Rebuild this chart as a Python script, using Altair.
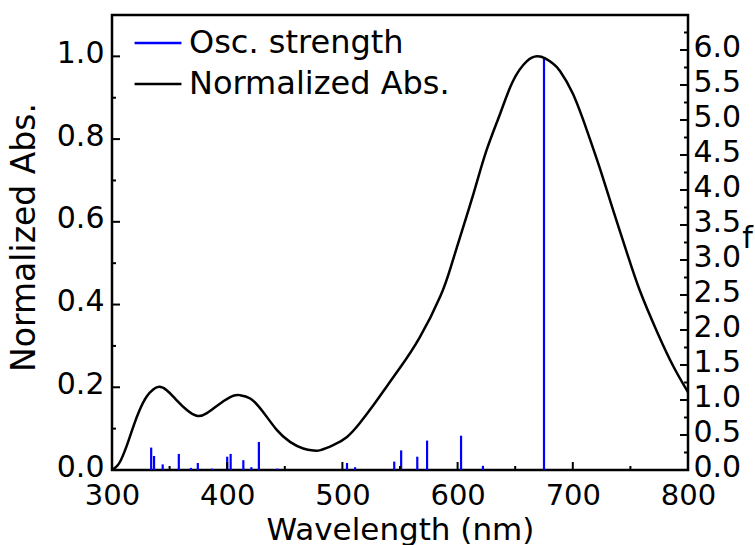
import altair as alt
import pandas as pd

# ---- data ----
wavelength = [300, 303, 307, 313, 318.5, 324, 330, 336, 341, 347.5, 356, 365, 373.5, 382,
              394, 405, 411, 420, 431, 443, 454.5, 466, 475, 481, 492, 504, 515, 527,
              538.5, 550, 567, 585, 594, 602, 614, 625, 637, 648, 660, 669, 676, 683, 689,
              700, 712, 724, 735, 747, 758, 773, 787, 800]
norm_abs = [0.0, 0.006, 0.02, 0.06, 0.105, 0.145, 0.177, 0.195, 0.201, 0.193, 0.169, 0.145,
            0.131, 0.137, 0.161, 0.179, 0.181, 0.173, 0.141, 0.097, 0.068, 0.052, 0.047,
            0.048, 0.06, 0.08, 0.113, 0.157, 0.202, 0.247, 0.32, 0.42, 0.49, 0.562, 0.67,
            0.772, 0.862, 0.94, 0.988, 1.0, 0.995, 0.982, 0.964, 0.91, 0.823, 0.725, 0.628,
            0.525, 0.435, 0.335, 0.252, 0.188]

stick_wl = [334, 336.5, 344, 358, 368.5, 374.5, 387, 400, 403, 414, 421, 427.5, 443.5,
            504, 511, 545, 551, 565, 573.5, 603, 622, 675]
stick_f = [0.32, 0.20, 0.08, 0.23, 0.03, 0.10, 0.02, 0.19, 0.23, 0.14, 0.04, 0.40, 0.02,
           0.10, 0.04, 0.12, 0.28, 0.19, 0.42, 0.49, 0.06, 5.9]

series_names = ["Osc. strength", "Normalized Abs."]
series_colors = ["#0000ff", "#000000"]

x_major = [300, 400, 500, 600, 700, 800]
x_minor = [350, 450, 550, 650, 750]
left_major = [0.0, 0.2, 0.4, 0.6, 0.8, 1.0]
left_minor = [0.1, 0.3, 0.5, 0.7, 0.9]
right_major = [0.0, 0.5, 1.0, 1.5, 2.0, 2.5, 3.0, 3.5, 4.0, 4.5, 5.0, 5.5, 6.0]
right_minor = [0.25, 0.75, 1.25, 1.75, 2.25, 2.75, 3.25, 3.75, 4.25, 4.75, 5.25, 5.75, 6.25]

# ---- layout / style ----
W, H = 576, 455
FONT = "DejaVu Sans"
MAJ, MIN = 8, 4

curve_df = pd.DataFrame({"wl": wavelength, "a": norm_abs, "series": series_names[1]})
stick_df = pd.DataFrame({"wl": stick_wl, "f": stick_f, "series": series_names[0]})

XDOM = [300, 800]
YLDOM = [0, 1.1]
YRDOM = [0, 6.5]

def xs():
    return alt.Scale(domain=XDOM, nice=False, zero=False)

def yls():
    return alt.Scale(domain=YLDOM, nice=False)

def yrs():
    return alt.Scale(domain=YRDOM, nice=False)

color = alt.Color(
    "series:N",
    scale=alt.Scale(domain=series_names, range=series_colors),
    legend=alt.Legend(
        title=None, orient="none", legendX=21, legendY=3, padding=0,
        symbolType="stroke", symbolSize=2200, symbolStrokeWidth=2.5,
        labelFontSize=32, labelFont=FONT, labelColor="black", labelOffset=6,
        labelLimit=0, rowPadding=-17,
    ),
)

def x_axis():
    return alt.Axis(
        values=x_major, format="d", ticks=False, tickSize=0, domain=False, grid=False,
        labelFontSize=29, labelPadding=34, labelBaseline="alphabetic",
        labelFlush=False, labelOverlap=False,
        title="Wavelength (nm)", titleFontSize=31, titleY=69,
        titleBaseline="alphabetic", titleAlign="center",
    )

left_axis = alt.Axis(
    orient="left", values=left_major, format=".1f", ticks=False, tickSize=0, domain=False,
    grid=False, labelFontSize=30, labelPadding=8, labelOffset=-3,
    labelFlush=False, labelOverlap=False,
    title="Normalized Abs.", titleFontSize=33, titleX=-88, titleY=222, titleAngle=270,
    titleAlign="center", titleBaseline="middle",
)

right_axis = alt.Axis(
    orient="right", values=right_major, format=".1f", ticks=False, tickSize=0, domain=False,
    grid=False, labelFontSize=30, labelPadding=5, labelOffset=-3,
    labelFlush=False, labelOverlap=False,
    title="f", titleFontSize=30, titleAngle=0, titleX=59, titleY=232,
    titleAlign="center", titleBaseline="alphabetic",
)

sticks = alt.Chart(stick_df).mark_rule(strokeWidth=2.2).encode(
    x=alt.X("wl:Q", scale=xs(), axis=x_axis()),
    y=alt.Y("f:Q", scale=yrs(), axis=right_axis),
    y2=alt.datum(0),
    color=color,
)

curve = alt.Chart(curve_df).mark_line(strokeWidth=2.5, interpolate="natural").encode(
    x=alt.X("wl:Q", scale=xs(), axis=x_axis()),
    y=alt.Y("a:Q", scale=yls(), axis=left_axis),
    color=color,
)

def vticks(values, scale, at_right, length):
    df = pd.DataFrame({"v": values})
    if at_right:
        xe = dict(x=alt.value(W), x2=alt.value(W - length))
    else:
        xe = dict(x=alt.value(0), x2=alt.value(length))
    return alt.Chart(df).mark_rule(color="black", strokeWidth=2).encode(
        y=alt.Y("v:Q", scale=scale, axis=None), **xe
    )

def hticks(values, length):
    df = pd.DataFrame({"v": values})
    return alt.Chart(df).mark_rule(color="black", strokeWidth=2).encode(
        x=alt.X("v:Q", scale=xs(), axis=x_axis()), y=alt.value(H), y2=alt.value(H - length)
    )

chart = (
    alt.layer(
        sticks,
        curve,
        vticks(right_major, yrs(), True, MAJ),
        vticks(right_minor, yrs(), True, MIN),
        vticks(left_major, yls(), False, MAJ),
        vticks(left_minor, yls(), False, MIN),
        hticks(x_major, MAJ),
        hticks(x_minor, MIN),
    )
    .resolve_scale(y="independent")
    .properties(
        width=W, height=H,
        padding={"left": 112, "top": 15, "right": 67, "bottom": 75},
        autosize=alt.AutoSizeParams(type="none"),
        background="white",
    )
    .configure_view(stroke="black", strokeWidth=2.5)
    .configure_axis(labelFont=FONT, titleFont=FONT, labelColor="black", titleColor="black",
                    titleFontWeight="normal")
)

chart.save("out.html", embed_options={"renderer": "svg", "actions": False})
